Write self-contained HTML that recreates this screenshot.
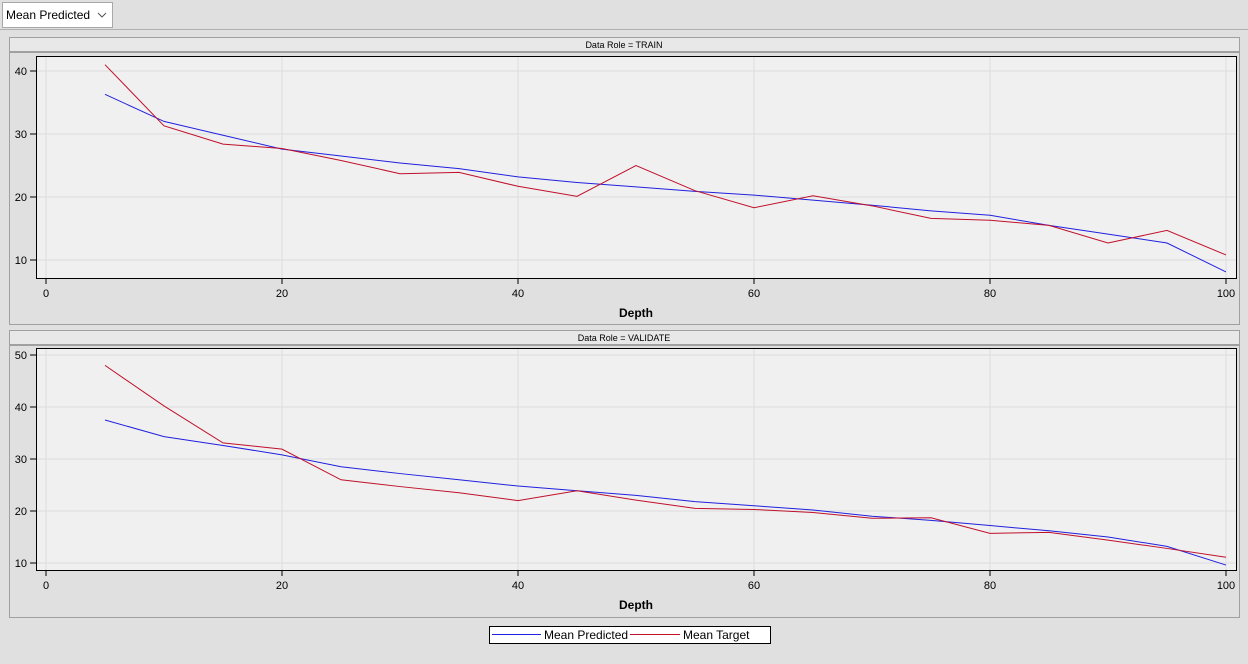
<!DOCTYPE html>
<html><head><meta charset="utf-8">
<style>
body{margin:0;width:1248px;height:659px;background:#e0e0e0;font-family:"Liberation Sans",sans-serif;overflow:hidden}
</style></head>
<body>
<svg id="svg" width="1248" height="659" xmlns="http://www.w3.org/2000/svg" font-family="Liberation Sans, sans-serif">
<rect x="0" y="0" width="1248" height="659" fill="#e0e0e0"/>
<line x1="0" y1="29.5" x2="1248" y2="29.5" stroke="#b0b0b0"/>
<g>
<rect x="2.5" y="2.5" width="110" height="25" fill="#fff" stroke="#a8a8a8"/>
<text x="6" y="19" font-size="12" fill="#000">Mean Predicted</text>
<path d="M98 13 L102 17 L106 13" fill="none" stroke="#555"/>
</g>
<g id="panels"></g>
<g>
<rect x="489.5" y="626.5" width="281" height="17" fill="#fff" stroke="#000"/>
<line x1="492" y1="634.5" x2="541" y2="634.5" stroke="#2020e0"/>
<text x="544" y="639" font-size="12">Mean Predicted</text>
<line x1="630" y1="634.5" x2="680" y2="634.5" stroke="#c0102a"/>
<text x="683" y="639" font-size="12">Mean Target</text>
</g>
</svg>
<script>
const depth=[5,10,15,20,25,30,35,40,45,50,55,60,65,70,75,80,85,90,95,100];
const trainPredicted=[36.3,32,29.8,27.6,26.5,25.4,24.5,23.2,22.3,21.6,20.9,20.3,19.5,18.7,17.8,17.1,15.5,14.1,12.7,8.1];
const trainTarget=[41,31.3,28.4,27.7,25.8,23.7,23.9,21.7,20.1,25.0,21.0,18.3,20.2,18.6,16.6,16.3,15.5,12.7,14.7,10.8];
const validPredicted=[37.5,34.3,32.6,30.8,28.5,27.2,26,24.8,23.9,23,21.8,21,20.2,19,18.2,17.2,16.2,15,13.2,9.6];
const validTarget=[48,40.2,33.1,31.9,26,24.7,23.5,22,23.9,22.1,20.5,20.3,19.7,18.6,18.7,15.7,15.9,14.4,12.8,11.1];
const xTicks=[0,20,40,60,80,100];
const trainYTicks=[10,20,30,40];
const validYTicks=[10,20,30,40,50];
const NS="http://www.w3.org/2000/svg";
const root=document.getElementById('panels');
function mk(tag,attrs,parent){const e=document.createElementNS(NS,tag);for(const k in attrs)e.setAttribute(k,attrs[k]);parent.appendChild(e);return e;}
function panel(cfg){
  const g=mk('g',{},root);
  
  
  mk('rect',{x:9.5,y:cfg.top+0.5,width:1230,height:cfg.h,fill:'#e0e0e0',stroke:'#a0a0a0'},g);
  const hdr=mk('rect',{x:10,y:cfg.top+1,width:1229,height:13,fill:'#e8e8e8'},g);
  
  
  mk('rect',{x:10,y:cfg.top+14,width:1229,height:2,fill:'#a0a0a0'},g);
  const ht=mk('text',{x:624,y:cfg.top+11,'font-size':9,'text-anchor':'middle'},g);ht.textContent=cfg.title;
  
  
  const L=36,R=1236,T=cfg.pt,B=cfg.pb;
  const xs=v=>46+(v/100)*1180;
  const ys=v=>cfg.y0px+(v-cfg.y0)*(cfg.y1px-cfg.y0px)/(cfg.y1-cfg.y0);
  mk('rect',{x:L+0.5,y:T+0.5,width:R-L,height:B-T,fill:'#f0f0f0',stroke:'#000'},g);
  xTicks.forEach(t=>{
    mk('line',{x1:xs(t),y1:T+1,x2:xs(t),y2:B,stroke:'#dcdcdc'},g);
    mk('line',{x1:xs(t),y1:B,x2:xs(t),y2:B+6,stroke:'#000'},g);
    const tx=mk('text',{x:xs(t),y:B+19,'font-size':11,'text-anchor':'middle'},g);tx.textContent=t;
    
    
  });
  cfg.yt.forEach(t=>{
    mk('line',{x1:L+1,y1:ys(t),x2:R,y2:ys(t),stroke:'#dcdcdc'},g);
    mk('line',{x1:L-6,y1:ys(t),x2:L,y2:ys(t),stroke:'#000'},g);
    const tx=mk('text',{x:L-9,y:ys(t)+4,'font-size':11,'text-anchor':'end'},g);tx.textContent=t;
    
    
  });
  const xt=mk('text',{x:636,y:B+39,'font-size':12,'font-weight':'bold','text-anchor':'middle'},g);xt.textContent='Depth';
  
  
  [[cfg.pred,'#2020e0','predicted-line'],[cfg.targ,'#c0102a','target-line']].forEach(([arr,c,n])=>{
    const p=mk('polyline',{points:arr.map((v,i)=>xs(depth[i])+','+ys(v)).join(' '),fill:'none',stroke:c,'stroke-width':1},g);
    
    
  });
}
panel({name:'train-panel',title:'Data Role = TRAIN',top:37,h:287,pt:56,pb:278,y0:10,y0px:260,y1:40,y1px:71,yt:trainYTicks,pred:trainPredicted,targ:trainTarget});
panel({name:'validate-panel',title:'Data Role = VALIDATE',top:330,h:287,pt:348,pb:570,y0:10,y0px:563,y1:50,y1px:355,yt:validYTicks,pred:validPredicted,targ:validTarget});
</script>
</body></html>
